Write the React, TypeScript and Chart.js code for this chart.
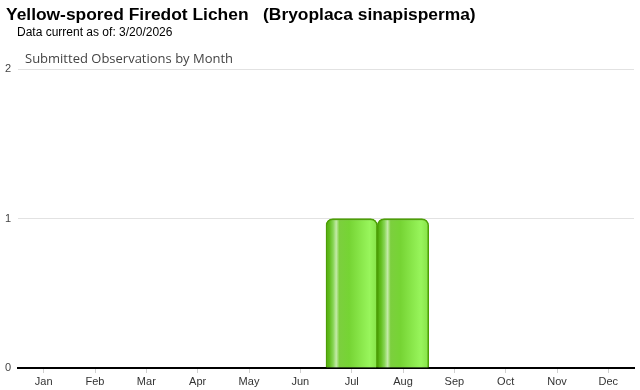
import React, { useEffect, useRef } from "react";
import { Chart, registerables } from "chart.js";

Chart.register(...registerables);

const months = ["Jan", "Feb", "Mar", "Apr", "May", "Jun", "Jul", "Aug", "Sep", "Oct", "Nov", "Dec"];
const observations = [0, 0, 0, 0, 0, 0, 1, 1, 0, 0, 0, 0];
const yTicks = [0, 1, 2];

const titleText = "Yellow-spored Firedot Lichen   (Bryoplaca sinapisperma)";
const subtitleText = "Data current as of: 3/20/2026";
const chartTitle = "Submitted Observations by Month";

export default function App() {
  const ref = useRef<HTMLCanvasElement | null>(null);

  useEffect(() => {
    document.body.style.margin = "0";
    const canvas = ref.current;
    if (!canvas) return;
    const chart = new Chart(canvas, {
      type: "bar",
      data: {
        labels: months,
        datasets: [
          {
            data: observations,
            backgroundColor: (c: any) => {
              const ch = c.chart;
              const xs = ch.scales && ch.scales.x;
              if (!xs || c.dataIndex === undefined) return "#7ed83c";
              const center = xs.getPixelForValue(c.dataIndex);
              const w = (xs.right - xs.left) / months.length;
              const x0 = center - w / 2;
              if (!isFinite(x0) || !isFinite(w) || w <= 0) return "#7ed83c";
              const g = ch.ctx.createLinearGradient(x0, 0, x0 + w, 0);
              g.addColorStop(0, "#4fa80a");
              g.addColorStop(0.07, "#62be1e");
              g.addColorStop(0.14, "#88d656");
              g.addColorStop(0.2, "#c4eaa8");
              g.addColorStop(0.26, "#7ccf3e");
              g.addColorStop(0.45, "#76d434");
              g.addColorStop(0.85, "#98f55c");
              g.addColorStop(1, "#86e248");
              return g;
            },
            borderColor: "#4c9f06",
            borderWidth: { top: 2, left: 1.5, right: 1.5, bottom: 0 },
            borderRadius: { topLeft: 7, topRight: 7, bottomLeft: 0, bottomRight: 0 },
            borderSkipped: "bottom",
            barPercentage: 1,
            categoryPercentage: 1,
          },
        ],
      },
      options: {
        animation: false,
        responsive: false,
        maintainAspectRatio: false,
        layout: { padding: { top: 69, left: 0, right: 6, bottom: 0 } },
        plugins: {
          legend: { display: false },
          tooltip: { enabled: false },
          title: { display: false },
        },
        scales: {
          x: {
            offset: true,
            grid: {
              offset: false,
              drawOnChartArea: false,
              drawTicks: true,
              tickLength: 5,
              color: "#d0d0d0",
            },
            border: { display: true, color: "#000", width: 2 },
            ticks: {
              color: "#333",
              font: { family: "'Liberation Sans', Arial", size: 11 },
              padding: 2,
              maxRotation: 0,
              autoSkip: false,
            },
            afterFit: (s: any) => {
              s.height = 22;
            },
          },
          y: {
            min: 0,
            max: 2,
            afterBuildTicks: (s: any) => {
              s.ticks = yTicks.map((v) => ({ value: v }));
            },
            grid: { color: "#e2e2e2", drawTicks: false, lineWidth: 1 },
            border: { display: false },
            ticks: {
              color: "#444",
              font: { family: "'Liberation Sans', Arial", size: 11 },
              padding: 7,
            },
            afterFit: (s: any) => {
              s.width = 18;
            },
          },
        },
      },
    });
    return () => chart.destroy();
  }, []);

  return (
    <div style={{ position: "relative", width: 640, height: 390, background: "#fff" }}>
      <canvas ref={ref} width={640} height={390} style={{ position: "absolute", left: 0, top: 0 }} />
      <div
        style={{
          position: "absolute",
          left: 6,
          top: 5,
          fontFamily: "'Liberation Sans', Arial, sans-serif",
          fontWeight: "bold",
          fontSize: 17.4,
          lineHeight: "19px",
          whiteSpace: "pre",
          color: "#000",
        }}
      >
        {titleText}
      </div>
      <div
        style={{
          position: "absolute",
          left: 17,
          top: 25,
          fontFamily: "'Liberation Sans', Arial, sans-serif",
          fontSize: 12,
          lineHeight: "14px",
          whiteSpace: "pre",
          color: "#000",
        }}
      >
        {subtitleText}
      </div>
      <div
        style={{
          position: "absolute",
          left: 25,
          top: 50,
          fontFamily: "'Open Sans', sans-serif",
          fontSize: 13,
          lineHeight: "16px",
          whiteSpace: "pre",
          color: "#444",
        }}
      >
        {chartTitle}
      </div>
    </div>
  );
}
